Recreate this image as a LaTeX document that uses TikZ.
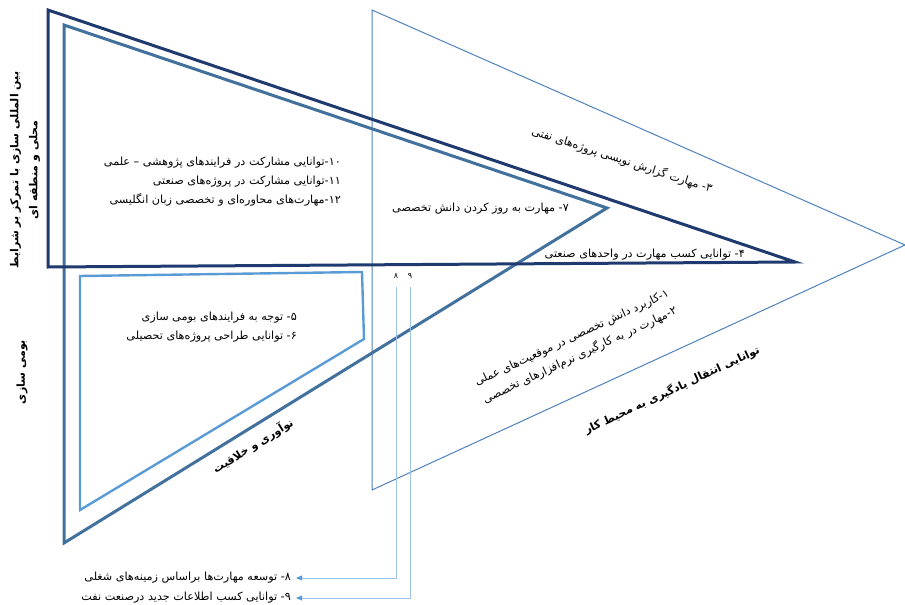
\documentclass[tikz,border=0pt]{standalone}
\usepackage{fontspec}
\newfontfamily\fa[Script=Arabic]{DejaVu Sans}
\TeXXeTstate=1
\usetikzlibrary{arrows.meta}
\newcommand\rl[1]{\beginR #1\endR}
\definecolor{navy}{HTML}{1F3A6E}
\definecolor{steel}{HTML}{41719C}
\definecolor{lightb}{HTML}{5B9BD5}
\definecolor{thinb}{HTML}{4F81BD}
\definecolor{arrb}{HTML}{9DC3E6}
\tikzset{
  txt/.style={font=\fa\fontsize{11.2}{19}\selectfont, inner sep=1pt, text=black},
  btxt/.style={font=\fa\bfseries\fontsize{11}{19}\selectfont, inner sep=1pt, text=black},
  navyline/.style={draw=navy, line width=3pt},
  steelline/.style={draw=steel, line width=3pt},
  lightline/.style={draw=lightb, line width=2.4pt},
  thinline/.style={draw=thinb, line width=1pt},
  arrline/.style={draw=arrb, line width=0.8pt, -{Triangle[length=6pt,width=5pt,color=lightb]}},
}
\begin{document}
\begin{tikzpicture}[x=1pt,y=-1pt]
\useasboundingbox (0,0) rectangle (905,605);
% shapes
\draw[thinline] (372,10) -- (905,245) -- (372,490) -- cycle;
\draw[steelline] (64,25) -- (607,208) -- (64,543) -- cycle;
\draw[lightline] (80,276) -- (362,272) -- (364,339) -- (80,510) -- cycle;
\draw[navyline] (48,10) -- (795,262) -- (48,267) -- cycle;

% texts
\node[btxt, rotate=90, align=center] (intl) at (25,170)
  {\rl{بین المللی سازی با تمرکز بر شرایط}\\ \rl{محلی و منطقه ای}};
\node[btxt, rotate=90] (bomi) at (22,372) {\rl{بومی سازی}};

\node[txt, anchor=east, align=right] (t1012) at (342,182)
  {\rl{\beginL ۱۰\endL-توانایی مشارکت در فرایندهای پژوهشی – علمی}\\
   \rl{\beginL ۱۱\endL-توانایی مشارکت در پروژه‌های صنعتی}\\
   \rl{\beginL ۱۲\endL-مهارت‌های محاوره‌ای و تخصصی زبان انگلیسی}};

\node[txt, anchor=east] (t7) at (570,209) {\rl{۷- مهارت به روز کردن دانش تخصصی}};
\node[txt, anchor=east] (t4) at (746,255) {\rl{۴- توانایی کسب مهارت در واحدهای صنعتی}};
\node[txt, rotate=-18] (t3) at (622,160) {\rl{۳- مهارت گزارش نویسی پروژه‌های نفتی}};

\node[txt, rotate=25, align=right] (t12) at (576,347)
  {\rl{۱-کاربرد دانش تخصصی در موقعیت‌های عملی}\\
   \rl{۲-مهارت در به کارگیری نرم‌افزارهای تخصصی}};
\node[btxt, rotate=25] (transfer) at (672,390) {\rl{توانایی انتقال یادگیری به محیط کار}};
\node[btxt, rotate=32] (innov) at (253,446) {\rl{نوآوری و خلاقیت}};

\node[txt, anchor=east, align=right] (t56) at (298,327)
  {\rl{۵- توجه به فرایندهای بومی سازی}\\
   \rl{۶- توانایی طراحی پروژه‌های تحصیلی}};

\node[txt, font=\fa\fontsize{8}{9}\selectfont] (l8) at (396,276) {۸};
\node[txt, font=\fa\fontsize{8}{9}\selectfont] (l9) at (410,276) {۹};

\node[txt, anchor=east, inner sep=5pt] (t8) at (296,578) {\rl{۸- توسعه مهارت‌ها براساس زمینه‌های شغلی}};
\node[txt, anchor=east, inner sep=5pt] (t9) at (296,598) {\rl{۹- توانایی کسب اطلاعات جدید درصنعت نفت}};

\draw[arrline] (l8.south) ++(0,7) |- (t8.east);
\draw[arrline] (l9.south) ++(0,7) |- (t9.east);
\end{tikzpicture}
\end{document}
